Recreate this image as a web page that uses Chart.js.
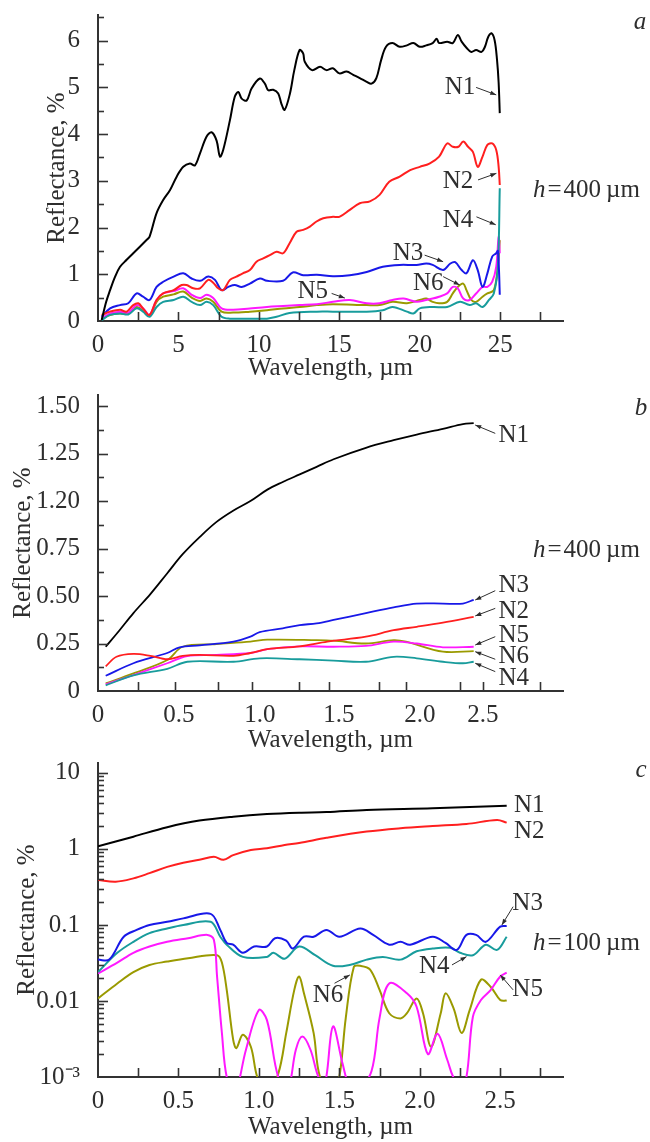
<!DOCTYPE html>
<html>
<head>
<meta charset="utf-8">
<script src="https://cdn.jsdelivr.net/npm/chart.js@4.4.0/dist/chart.umd.min.js"></script>
<style>
  body { margin: 0; background: #fff; }
  #wrap { position: relative; width: 650px; height: 1142px; overflow: hidden; }
  canvas { position: absolute; left: 0; }
</style>
</head>
<body>
<div id="wrap">
  <canvas id="chart-a" style="top:0px" width="650" height="390"></canvas>
  <canvas id="chart-b" style="top:380px" width="650" height="380"></canvas>
  <canvas id="chart-c" style="top:748px" width="650" height="394"></canvas>
</div>
<script>
// ---- series names / colours (same for all three panels)
const seriesNames = ['N1', 'N2', 'N3', 'N4', 'N5', 'N6']
const seriesColors = ['#000000', '#ff1f1f', '#1818e8', '#189c9c', '#ff18ff', '#9a9a00']

// ---- panel a : wavelength (um), reflectance (%)
const a_N1 = [[0.23,0.02],[0.5,0.4],[0.75,0.66],[1.05,0.94],[1.37,1.16],[1.78,1.31],[2.19,1.45],[2.6,1.59],[3.0,1.73],[3.2,1.8],[3.64,2.31],[4.05,2.59],[4.47,2.8],[4.89,3.09],[5.3,3.3],[5.71,3.37],[6.02,3.33],[6.34,3.59],[6.75,3.95],[7.06,4.04],[7.37,3.86],[7.58,3.52],[7.78,3.66],[8.2,4.3],[8.5,4.8],[8.72,4.9],[8.93,4.76],[9.24,4.72],[9.55,4.98],[10.06,5.19],[10.37,5.08],[10.58,4.94],[10.89,4.95],[11.2,4.87],[11.4,4.65],[11.6,4.52],[11.93,4.87],[12.2,5.37],[12.53,5.8],[12.75,5.73],[12.85,5.55],[13.3,5.37],[13.8,5.44],[14.2,5.37],[14.6,5.41],[15.0,5.3],[15.45,5.34],[15.86,5.27],[16.27,5.2],[16.7,5.12],[17.0,5.08],[17.3,5.2],[17.6,5.59],[17.9,5.87],[18.3,5.95],[18.75,5.87],[19.2,5.9],[19.6,5.95],[20.0,5.87],[20.4,5.9],[20.8,5.95],[21.05,6.04],[21.2,5.95],[21.7,5.98],[22.05,5.95],[22.36,6.12],[22.6,5.98],[22.9,5.85],[23.2,5.76],[23.5,5.8],[23.84,5.76],[24.05,5.87],[24.25,6.08],[24.45,6.16],[24.65,6.01],[24.8,5.59],[24.9,5.1],[24.97,4.45]]
const a_N2 = [[0.23,0.13],[0.75,0.2],[1.37,0.24],[1.78,0.2],[2.19,0.34],[2.5,0.38],[2.8,0.27],[3.2,0.13],[3.64,0.45],[4.05,0.59],[4.7,0.66],[5.2,0.77],[5.5,0.77],[5.92,0.7],[6.34,0.7],[6.85,0.88],[7.16,0.82],[7.47,0.7],[7.78,0.66],[8.2,0.88],[8.6,0.95],[9.0,1.02],[9.44,1.09],[9.85,1.27],[10.27,1.34],[10.68,1.41],[11.1,1.48],[11.5,1.45],[11.9,1.66],[12.34,1.91],[12.75,1.95],[13.17,2.02],[13.58,2.13],[14.0,2.2],[14.6,2.23],[15.0,2.23],[15.65,2.38],[16.27,2.52],[16.9,2.56],[17.5,2.7],[18.1,2.98],[18.75,3.09],[19.4,3.23],[20.0,3.3],[20.6,3.37],[21.2,3.52],[21.7,3.8],[22.05,3.73],[22.4,3.73],[22.7,3.84],[23.0,3.73],[23.3,3.62],[23.6,3.3],[23.9,3.52],[24.2,3.77],[24.5,3.8],[24.75,3.66],[24.9,3.3],[24.97,2.91]]
const a_N3 = [[0.23,0.09],[0.75,0.27],[1.37,0.34],[1.88,0.38],[2.4,0.59],[2.8,0.52],[3.2,0.45],[3.64,0.73],[4.05,0.84],[4.7,0.95],[5.3,1.02],[5.82,0.91],[6.34,0.86],[6.85,0.95],[7.27,0.88],[7.68,0.66],[8.1,0.73],[8.5,0.77],[8.93,0.73],[9.44,0.8],[10.06,0.91],[10.5,0.86],[11.5,0.86],[12.1,1.04],[12.75,0.98],[13.6,0.99],[14.6,0.96],[15.65,0.98],[16.7,1.05],[17.7,1.16],[18.75,1.2],[19.8,1.2],[20.4,1.23],[20.8,1.2],[21.45,1.09],[21.9,1.23],[22.2,1.26],[22.6,1.09],[22.9,1.02],[23.3,1.3],[23.6,1.09],[23.9,0.73],[24.2,1.02],[24.5,1.38],[24.75,1.45],[24.85,1.5],[24.92,1.1],[24.97,0.56]]
const a_N4 = [[0.23,0.02],[0.75,0.13],[1.37,0.16],[1.88,0.14],[2.4,0.27],[2.8,0.2],[3.2,0.09],[3.64,0.3],[4.05,0.41],[4.7,0.45],[5.3,0.52],[5.82,0.41],[6.34,0.34],[6.75,0.41],[7.16,0.34],[7.68,0.09],[8.2,0.05],[9.44,0.05],[10.5,0.05],[11.1,0.09],[11.9,0.17],[13.6,0.2],[14.6,0.2],[16.7,0.2],[17.7,0.23],[18.3,0.3],[19.2,0.2],[19.6,0.16],[20.0,0.27],[20.8,0.3],[21.7,0.3],[22.5,0.41],[23.1,0.34],[23.5,0.38],[23.9,0.3],[24.3,0.45],[24.6,0.59],[24.85,1.16],[24.97,2.84]]
const a_N5 = [[0.23,0.05],[0.75,0.16],[1.37,0.2],[1.88,0.18],[2.4,0.34],[2.8,0.27],[3.2,0.13],[3.64,0.45],[4.05,0.59],[4.7,0.64],[5.3,0.7],[5.82,0.56],[6.34,0.49],[6.75,0.56],[7.16,0.49],[7.68,0.27],[8.4,0.24],[9.44,0.27],[10.5,0.3],[11.5,0.32],[12.53,0.34],[13.6,0.36],[14.6,0.41],[15.65,0.45],[16.7,0.38],[17.5,0.38],[18.3,0.45],[19.0,0.48],[19.8,0.41],[20.4,0.45],[20.8,0.48],[21.2,0.52],[21.7,0.59],[22.05,0.73],[22.36,0.7],[22.7,0.48],[23.1,0.45],[23.5,0.59],[23.9,0.73],[24.2,0.73],[24.5,0.84],[24.75,1.16],[24.9,1.8],[24.97,1.45]]
const a_N6 = [[0.23,0.05],[0.75,0.13],[1.37,0.16],[1.88,0.16],[2.4,0.3],[2.8,0.23],[3.2,0.11],[3.64,0.41],[4.05,0.52],[4.7,0.57],[5.3,0.63],[5.82,0.5],[6.34,0.43],[6.75,0.48],[7.16,0.41],[7.68,0.2],[8.4,0.18],[9.44,0.2],[10.5,0.23],[11.5,0.27],[12.53,0.3],[13.6,0.34],[14.6,0.36],[16.7,0.34],[17.5,0.34],[18.3,0.41],[19.2,0.38],[20.0,0.45],[20.4,0.48],[20.8,0.41],[21.2,0.38],[21.7,0.41],[22.05,0.59],[22.36,0.73],[22.7,0.8],[22.9,0.66],[23.2,0.45],[23.5,0.41],[23.9,0.52],[24.2,0.59],[24.6,0.66],[24.85,1.16],[24.97,1.73]]

// ---- panel b
const b_N1 = [[0.05,0.233],[0.14,0.32],[0.23,0.41],[0.34,0.51],[0.45,0.62],[0.55,0.72],[0.66,0.81],[0.77,0.89],[0.88,0.95],[0.99,1.0],[1.1,1.06],[1.2,1.1],[1.31,1.14],[1.42,1.18],[1.53,1.22],[1.74,1.28],[1.92,1.32],[2.07,1.35],[2.24,1.38],[2.37,1.405],[2.44,1.41]]
const b_N2 = [[0.05,0.13],[0.12,0.18],[0.23,0.195],[0.34,0.185],[0.45,0.167],[0.55,0.185],[0.66,0.19],[0.88,0.185],[0.99,0.2],[1.1,0.22],[1.31,0.235],[1.49,0.26],[1.74,0.286],[1.92,0.32],[2.07,0.338],[2.24,0.36],[2.44,0.39]]
const b_N3 = [[0.05,0.08],[0.23,0.146],[0.45,0.2],[0.53,0.23],[0.66,0.24],[0.88,0.26],[0.99,0.286],[1.05,0.31],[1.2,0.33],[1.31,0.347],[1.42,0.356],[1.53,0.374],[1.74,0.41],[1.92,0.44],[2.07,0.46],[2.24,0.46],[2.37,0.46],[2.44,0.48]]
const b_N4 = [[0.05,0.03],[0.23,0.082],[0.45,0.117],[0.58,0.154],[0.88,0.154],[1.05,0.172],[1.31,0.167],[1.53,0.16],[1.74,0.154],[1.92,0.18],[2.07,0.172],[2.24,0.154],[2.37,0.146],[2.44,0.154]]
const b_N5 = [[0.05,0.035],[0.23,0.084],[0.45,0.146],[0.58,0.184],[0.77,0.19],[0.99,0.2],[1.1,0.22],[1.31,0.235],[1.53,0.233],[1.74,0.237],[1.92,0.26],[2.07,0.25],[2.24,0.23],[2.44,0.233]]
const b_N6 = [[0.05,0.04],[0.23,0.093],[0.45,0.163],[0.55,0.233],[0.77,0.247],[0.99,0.26],[1.1,0.27],[1.42,0.268],[1.53,0.265],[1.74,0.25],[1.92,0.268],[2.0,0.26],[2.24,0.207],[2.44,0.21]]

// ---- panel c (log axis)
const c_N1 = [[0.0,1.08],[0.22,1.45],[0.43,1.93],[0.63,2.36],[0.84,2.66],[1.05,2.88],[1.25,3.0],[1.42,3.05],[1.67,3.26],[2.08,3.43],[2.54,3.71]]
const c_N2 = [[0.0,0.39],[0.11,0.37],[0.22,0.41],[0.32,0.48],[0.43,0.58],[0.53,0.66],[0.63,0.72],[0.72,0.79],[0.78,0.72],[0.84,0.83],[0.95,0.97],[1.05,1.02],[1.16,1.13],[1.25,1.2],[1.42,1.4],[1.67,1.69],[1.88,1.87],[2.08,2.0],[2.29,2.13],[2.48,2.4],[2.54,2.22]]
const c_N3 = [[0.0,0.035],[0.07,0.035],[0.16,0.07],[0.24,0.086],[0.32,0.1],[0.43,0.11],[0.53,0.122],[0.7,0.14],[0.76,0.086],[0.8,0.058],[0.84,0.055],[0.9,0.043],[0.97,0.052],[1.05,0.052],[1.1,0.067],[1.17,0.062],[1.21,0.049],[1.28,0.07],[1.34,0.07],[1.42,0.086],[1.5,0.07],[1.63,0.09],[1.71,0.074],[1.81,0.055],[1.88,0.06],[1.94,0.055],[2.08,0.07],[2.16,0.058],[2.23,0.047],[2.29,0.074],[2.35,0.074],[2.41,0.06],[2.5,0.095],[2.54,0.097]]
const c_N4 = [[0.0,0.024],[0.12,0.043],[0.22,0.06],[0.32,0.078],[0.43,0.09],[0.53,0.1],[0.7,0.11],[0.76,0.07],[0.8,0.055],[0.9,0.038],[1.05,0.038],[1.09,0.043],[1.16,0.036],[1.25,0.052],[1.35,0.04],[1.46,0.029],[1.57,0.03],[1.67,0.035],[1.77,0.038],[1.88,0.035],[1.98,0.045],[2.08,0.049],[2.19,0.05],[2.25,0.043],[2.33,0.04],[2.41,0.055],[2.48,0.047],[2.54,0.07]]
const c_N5 = [[0.0,0.023],[0.12,0.032],[0.22,0.043],[0.32,0.052],[0.43,0.06],[0.56,0.067],[0.68,0.074],[0.72,0.064],[0.74,0.021],[0.77,0.0038],[0.8,0.001],[0.85,0.0006],[0.92,0.0023],[1.0,0.0076],[1.05,0.0056],[1.12,0.001],[1.18,0.0007],[1.23,0.0023],[1.27,0.0034],[1.32,0.0023],[1.37,0.001],[1.41,0.0008],[1.46,0.0046],[1.52,0.0015],[1.56,0.0008],[1.62,0.0007],[1.7,0.0012],[1.75,0.006],[1.81,0.017],[1.92,0.0126],[1.98,0.0084],[2.05,0.002],[2.11,0.0037],[2.17,0.0017],[2.22,0.0009],[2.28,0.0008],[2.33,0.0062],[2.38,0.0103],[2.44,0.0139],[2.5,0.021],[2.54,0.0236]]
const c_N6 = [[0.0,0.0108],[0.12,0.017],[0.22,0.024],[0.32,0.0298],[0.43,0.033],[0.56,0.0365],[0.74,0.04],[0.77,0.032],[0.8,0.014],[0.84,0.0031],[0.86,0.0024],[0.9,0.0036],[0.95,0.0025],[0.99,0.001],[1.05,0.0006],[1.12,0.0011],[1.17,0.0038],[1.22,0.014],[1.25,0.021],[1.28,0.0126],[1.34,0.0038],[1.38,0.001],[1.46,0.0006],[1.5,0.001],[1.54,0.006],[1.59,0.028],[1.63,0.029],[1.69,0.026],[1.75,0.014],[1.81,0.0069],[1.88,0.0059],[1.92,0.0069],[1.98,0.0108],[2.02,0.0069],[2.07,0.0025],[2.13,0.0069],[2.16,0.0126],[2.21,0.008],[2.26,0.0038],[2.31,0.0076],[2.38,0.019],[2.44,0.0154],[2.5,0.0103],[2.54,0.0101]]

// ---- tick labels and tick marks
const aXLabelVals = [0, 5, 10, 15, 20, 25]
const aXLabels = ['0', '5', '10', '15', '20', '25']
const aXMarks = [2.5, 5, 7.5, 10, 12.5, 15, 17.5, 20, 22.5, 25, 27.5]
const aYLabelVals = [0, 1, 2, 3, 4, 5, 6]
const aYLabels = ['0', '1', '2', '3', '4', '5', '6']
const aYMarks = [0.5, 1, 1.5, 2, 2.5, 3, 3.5, 4, 4.5, 5, 5.5, 6, 6.5]

// labels in the original figure are not quite on their ticks, and "1.00" reads "1.20"
const bXLabelVals = [0, 0.526, 1.052, 1.565, 2.09, 2.5]
const bXLabels = ['0', '0.5', '1.0', '1.5', '2.0', '2.5']
const bXMarks = [0.26, 0.5, 0.78, 1.0, 1.305, 1.5, 1.825, 2.0, 2.35, 2.5, 2.87]
const bYLabelVals = [0, 0.25, 0.5, 0.75, 1.0, 1.25, 1.5]
const bYLabels = ['0', '0.25', '0.50', '0.75', '1.20', '1.25', '1.50']
const bYMarks = [0.125, 0.25, 0.375, 0.5, 0.625, 0.75, 0.875, 1.0, 1.125, 1.25, 1.375, 1.5]

const cXLabelVals = [0, 0.5, 1.0, 1.5, 2.0, 2.5]
const cXLabels = ['0', '0.5', '1.0', '1.5', '2.0', '2.5']
const cXMarks = [0.25, 0.5, 0.75, 1.0, 1.25, 1.5, 1.75, 2.0, 2.25, 2.5, 2.75]
const cYLabelVals = [0.001, 0.01, 0.1, 1, 10]
const cYLabels = ['10\u207B\u00B3', '0.01', '0.1', '1', '10']
const cYMarks = [0.002,0.003,0.004,0.005,0.006,0.007,0.008,0.009,0.01,0.02,0.03,0.04,0.05,0.06,0.07,0.08,0.09,0.1,0.2,0.3,0.4,0.5,0.6,0.7,0.8,0.9,1,2,3,4,5,6,7,8,9,10]

// ---- curve labels: [text, labelX, labelY, arrowFromX, arrowFromY, arrowToX, arrowToY] (data units)
const aNotes = [
    ['N1', 22.5, 5.0, 23.5, 5.0, 24.75, 4.84],
    ['N2', 22.38, 2.98, 23.62, 3.02, 24.76, 3.16],
    ['N4', 22.38, 2.16, 23.52, 2.23, 24.72, 2.06],
    ['N3', 19.27, 1.45, 20.3, 1.41, 21.45, 1.27],
    ['N6', 20.52, 0.81, 21.45, 0.95, 22.48, 0.77],
    ['N5', 13.35, 0.64, 14.52, 0.59, 15.34, 0.49]
]
const bNotes = [
    ['N1', 2.70, 1.347, 2.58, 1.356, 2.45, 1.40],
    ['N3', 2.70, 0.553, 2.58, 0.528, 2.45, 0.479],
    ['N2', 2.70, 0.417, 2.58, 0.435, 2.45, 0.395],
    ['N5', 2.70, 0.295, 2.58, 0.286, 2.45, 0.242],
    ['N6', 2.70, 0.18, 2.58, 0.167, 2.45, 0.207],
    ['N4', 2.70, 0.067, 2.58, 0.102, 2.45, 0.146]
]
const cNotes = [
    ['N1', 2.68, 3.79],
    ['N2', 2.68, 1.69],
    ['N3', 2.67, 0.193, 2.58, 0.174, 2.51, 0.1],
    ['N4', 2.09, 0.0282, 2.2, 0.0298, 2.29, 0.0383],
    ['N5', 2.67, 0.014, 2.58, 0.014, 2.5, 0.022],
    ['N6', 1.43, 0.012, 1.47, 0.0171, 1.565, 0.022]
]

const FONT = '"Liberation Serif", "Times New Roman", serif'
const FONT_SIZE = 25
Chart.defaults.font.family = FONT
Chart.defaults.font.size = FONT_SIZE
Chart.defaults.color = '#2e2e2e'

// inward tick marks (the library draws them outward only)
const innerTicks = {
    id: 'innerTicks',
    afterDraw(chart, args, opts){
        let ctx = chart.ctx
        let area = chart.chartArea
        ctx.save()
        ctx.strokeStyle = '#333'
        ctx.lineWidth = 1.6
        for (let axis of ['x', 'y']){
            let sc = chart.scales[axis]
            let spec = opts[axis]
            for (let v of spec.marks){
                let len = spec.major.includes(v) ? spec.majorLen : spec.minorLen
                let p = Math.round(sc.getPixelForValue(v)) + 0.5
                ctx.beginPath()
                if (axis == 'x'){
                    ctx.moveTo(p, area.bottom)
                    ctx.lineTo(p, area.bottom - len)
                } else {
                    ctx.moveTo(area.left, p)
                    ctx.lineTo(area.left + len, p)
                }
                ctx.stroke()
            }
        }
        ctx.restore()
    }
}

function drawArrow(ctx, x0, y0, x1, y1){
    ctx.beginPath()
    ctx.moveTo(x0, y0)
    ctx.lineTo(x1, y1)
    ctx.stroke()
    let ang = Math.atan2(y1 - y0, x1 - x0)
    let L = 6, W = 2.2
    ctx.beginPath()
    ctx.moveTo(x1, y1)
    ctx.lineTo(x1 - L * Math.cos(ang) + W * Math.sin(ang), y1 - L * Math.sin(ang) - W * Math.cos(ang))
    ctx.lineTo(x1 - L * Math.cos(ang) - W * Math.sin(ang), y1 - L * Math.sin(ang) + W * Math.cos(ang))
    ctx.closePath()
    ctx.fill()
}

// curve labels, panel letter and the thickness note
const notes = {
    id: 'notes',
    afterDraw(chart, args, opts){
        let ctx = chart.ctx
        let xs = chart.scales.x, ys = chart.scales.y
        ctx.save()
        ctx.fillStyle = '#2e2e2e'
        ctx.strokeStyle = '#2e2e2e'
        ctx.lineWidth = 1
        ctx.font = FONT_SIZE + 'px ' + FONT
        ctx.textAlign = 'center'
        ctx.textBaseline = 'middle'
        for (let n of opts.items){
            ctx.fillText(n[0], xs.getPixelForValue(n[1]), ys.getPixelForValue(n[2]))
            if (n.length > 3){
                drawArrow(ctx, xs.getPixelForValue(n[3]), ys.getPixelForValue(n[4]),
                               xs.getPixelForValue(n[5]), ys.getPixelForValue(n[6]))
            }
        }
        // panel letter
        ctx.font = 'italic ' + FONT_SIZE + 'px ' + FONT
        ctx.fillText(opts.letter[0], opts.letter[1], opts.letter[2])
        // h = ... um
        ctx.textAlign = 'left'
        let x = opts.hNote[1], y = opts.hNote[2]
        ctx.fillText('h', x, y)
        x += ctx.measureText('h').width + 2
        ctx.font = FONT_SIZE + 'px ' + FONT
        ctx.fillText('=', x, y)
        x += ctx.measureText('=').width + 2
        ctx.fillText(opts.hNote[0], x, y)
        ctx.restore()
    }
}

function makeSets(list, width){
    return list.map((pts, i) => ({
        label: seriesNames[i],
        data: pts.map(p => ({x: p[0], y: p[1]})),
        borderColor: seriesColors[i],
        borderWidth: width,
        pointRadius: 0,
        fill: false,
        tension: 0.35,
        clip: 0
    }))
}

function buildChart(id, cfg){
    let ctx = document.getElementById(id).getContext('2d')
    return new Chart(ctx, {
        type: 'line',
        data: { datasets: cfg.sets },
        options: {
            responsive: false,
            animation: false,
            devicePixelRatio: 1,
            layout: { padding: { top: 15, right: 87, bottom: 0, left: 0 } },
            plugins: {
                legend: { display: false },
                tooltip: { enabled: false },
                innerTicks: cfg.marks,
                notes: cfg.notes
            },
            scales: {
                x: {
                    type: 'linear',
                    min: 0,
                    max: cfg.xMax,
                    grid: { display: false },
                    border: { display: true, color: '#333', width: 2 },
                    afterFit: s => { s.height = cfg.xHeight; s.paddingLeft = 0; s.paddingRight = 0 },
                    afterBuildTicks: s => { s.ticks = cfg.xLabelVals.map(v => ({value: v})) },
                    ticks: { autoSkip: false, maxRotation: 0, padding: 1, callback: (v, i) => cfg.xLabels[i] },
                    title: { display: true, text: 'Wavelength, µm', padding: { top: 0, bottom: cfg.xTitlePad } }
                },
                y: {
                    type: cfg.yType,
                    min: cfg.yMin,
                    max: cfg.yMax,
                    grid: { display: false },
                    border: { display: true, color: '#333', width: 2 },
                    afterFit: s => { s.width = 98; s.paddingTop = 0; s.paddingBottom = 0 },
                    afterBuildTicks: s => { s.ticks = cfg.yLabelVals.map(v => ({value: v})) },
                    ticks: { autoSkip: false, padding: 10, callback: (v, i) => cfg.yLabels[i] },
                    title: { display: true, text: 'Reflectance, %', padding: { top: cfg.yTitlePad, bottom: 0 } }
                }
            }
        },
        plugins: [innerTicks, notes]
    })
}

buildChart('chart-a', {
    sets: makeSets([a_N1, a_N2, a_N3, a_N4, a_N5, a_N6], 2),
    xMax: 28.9, xHeight: 69, xTitlePad: 7,
    xLabelVals: aXLabelVals, xLabels: aXLabels,
    yType: 'linear', yMin: 0, yMax: 6.55, yTitlePad: 42,
    yLabelVals: aYLabelVals, yLabels: aYLabels,
    marks: {
        x: { marks: aXMarks, major: aXMarks, majorLen: 9, minorLen: 9 },
        y: { marks: aYMarks, major: [1, 2, 3, 4, 5, 6], majorLen: 10, minorLen: 6 }
    },
    notes: { items: aNotes, letter: ['a', 640, 22], hNote: ['400\u2009µm', 533, 190] }
})

buildChart('chart-b', {
    sets: makeSets([b_N1, b_N2, b_N3, b_N4, b_N5, b_N6], 1.8),
    xMax: 3.02, xHeight: 69, xTitlePad: 5,
    xLabelVals: bXLabelVals, xLabels: bXLabels,
    yType: 'linear', yMin: 0, yMax: 1.558, yTitlePad: 8,
    yLabelVals: bYLabelVals, yLabels: bYLabels,
    marks: {
        x: { marks: bXMarks, major: bXMarks, majorLen: 9, minorLen: 9 },
        y: { marks: bYMarks, major: [0.25, 0.5, 0.75, 1.0, 1.25, 1.5], majorLen: 10, minorLen: 6 }
    },
    notes: { items: bNotes, letter: ['b', 641, 28], hNote: ['400\u2009µm', 533, 170] }
})

buildChart('chart-c', {
    sets: makeSets([c_N1, c_N2, c_N3, c_N4, c_N5, c_N6], 2),
    xMax: 2.89, xHeight: 65, xTitlePad: 0,
    xLabelVals: cXLabelVals, xLabels: cXLabels,
    yType: 'logarithmic', yMin: 0.001, yMax: 13.5, yTitlePad: 12,
    yLabelVals: cYLabelVals, yLabels: cYLabels,
    marks: {
        x: { marks: cXMarks, major: cXMarks, majorLen: 9, minorLen: 9 },
        y: { marks: cYMarks, major: [0.01, 0.1, 1, 10], majorLen: 10, minorLen: 6 }
    },
    notes: { items: cNotes, letter: ['c', 641, 22], hNote: ['100\u2009µm', 533, 195] }
})
</script>
</body>
</html>
